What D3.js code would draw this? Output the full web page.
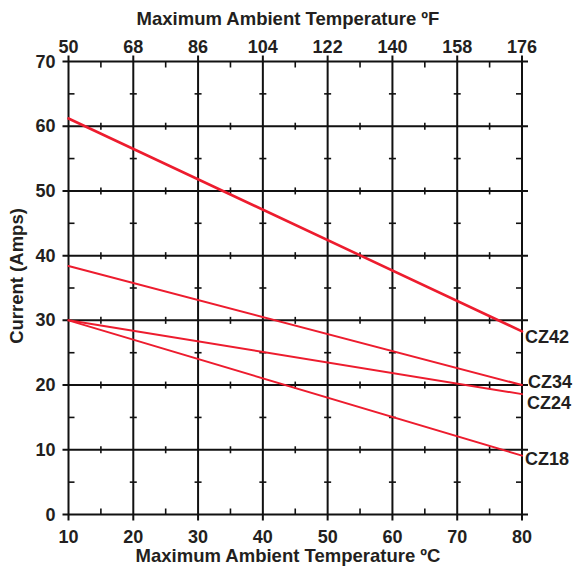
<!DOCTYPE html>
<html>
<head>
<meta charset="utf-8">
<script src="https://cdn.jsdelivr.net/npm/d3@7"></script>
<style>
  body { margin: 0; background: #fff; }
  svg text { font-family: "Liberation Sans", Arial, Helvetica, sans-serif; font-weight: bold; fill: #231f20; }
</style>
</head>
<body>
<svg id="chart" width="576" height="566"></svg>
<script>
// chart data
const tempC = [10, 20, 30, 40, 50, 60, 70, 80];
const tempF = [50, 68, 86, 104, 122, 140, 158, 176];
const ampTicks = [0, 10, 20, 30, 40, 50, 60, 70];
const minorC = [15, 25, 35, 45, 55, 65, 75];
const minorA = [5, 15, 25, 35, 45, 55, 65];
const seriesNames = ["CZ42", "CZ34", "CZ24", "CZ18"];
const startAmps = [61.2, 38.4, 30, 30];   // at 10 ºC
const endAmps = [28.3, 20, 18.6, 9.1];    // at 80 ºC

const width = 576, height = 566;
const marginLeft = 68.5, marginRight = 54, marginTop = 61.5, marginBottom = 51.5;

const svg = d3.select("#chart");

const x = d3.scaleLinear().domain([10, 80]).range([marginLeft, width - marginRight]);
const xF = d3.scaleLinear().domain([50, 176]).range([marginLeft, width - marginRight]);
const y = d3.scaleLinear().domain([0, 70]).range([height - marginBottom, marginTop]);

const ink = "#111";
const grid = svg.append("g").attr("stroke", ink).attr("stroke-width", 2);

// major grid lines, poking out a little past the frame
grid.selectAll(".vline")
    .data(tempC)
    .enter()
    .append("line")
    .attr("x1", d => x(d)).attr("x2", d => x(d))
    .attr("y1", y(70) - 6).attr("y2", y(0) + 6);

grid.selectAll(".hline")
    .data(ampTicks)
    .enter()
    .append("line")
    .attr("y1", d => y(d)).attr("y2", d => y(d))
    .attr("x1", x(10) - 6).attr("x2", x(80) + 6);

// minor ticks: small crosses on inner lines, inward only on the frame
const minor = svg.append("g").attr("stroke", ink).attr("stroke-width", 1.6);
tempC.forEach(c => {
    const x1 = c === 10 ? x(c) : (c === 80 ? x(c) - 6 : x(c) - 3.5);
    const x2 = c === 10 ? x(c) + 6 : (c === 80 ? x(c) : x(c) + 3.5);
    minor.selectAll(null)
        .data(minorA)
        .enter()
        .append("line")
        .attr("x1", x1).attr("x2", x2)
        .attr("y1", d => y(d)).attr("y2", d => y(d));
});
ampTicks.forEach(a => {
    const y1 = a === 70 ? y(a) : (a === 0 ? y(a) - 6 : y(a) - 3.5);
    const y2 = a === 70 ? y(a) + 6 : (a === 0 ? y(a) : y(a) + 3.5);
    minor.selectAll(null)
        .data(minorC)
        .enter()
        .append("line")
        .attr("x1", d => x(d)).attr("x2", d => x(d))
        .attr("y1", y1).attr("y2", y2);
});

// tick labels
svg.append("g")
    .selectAll("text")
    .data(tempC)
    .enter()
    .append("text")
    .attr("x", d => x(d))
    .attr("y", y(0) + 28)
    .attr("text-anchor", "middle")
    .attr("font-size", "18px")
    .text(d => d);

svg.append("g")
    .selectAll("text")
    .data(tempF)
    .enter()
    .append("text")
    .attr("x", d => xF(d))
    .attr("y", y(70) - 9)
    .attr("text-anchor", "middle")
    .attr("font-size", "18px")
    .text(d => d);

svg.append("g")
    .selectAll("text")
    .data(ampTicks)
    .enter()
    .append("text")
    .attr("x", x(10) - 13)
    .attr("y", d => y(d) + 6)
    .attr("text-anchor", "end")
    .attr("font-size", "18px")
    .text(d => d);

// axis titles
svg.append("text")
    .attr("x", 288).attr("y", 25)
    .attr("text-anchor", "middle")
    .attr("font-size", "18.5px")
    .text("Maximum Ambient Temperature ºF");

svg.append("text")
    .attr("x", 288).attr("y", 562)
    .attr("text-anchor", "middle")
    .attr("font-size", "18.5px")
    .text("Maximum Ambient Temperature ºC");

svg.append("text")
    .attr("transform", `translate(23, ${(y(0) + y(70)) / 2 - 12}) rotate(-90)`)
    .attr("text-anchor", "middle")
    .attr("font-size", "18.5px")
    .text("Current (Amps)");

// derating lines
const red = "#ed1c2e";
const labelDy = {"CZ42": 12, "CZ34": 3, "CZ24": 15, "CZ18": 9.5};
const labelDx = {"CZ42": 3, "CZ34": 6, "CZ24": 5, "CZ18": 3};

seriesNames.forEach((name, i) => {
    svg.append("line")
        .attr("x1", x(10)).attr("y1", y(startAmps[i]))
        .attr("x2", x(80)).attr("y2", y(endAmps[i]))
        .attr("stroke", red)
        .attr("stroke-width", i === 0 ? 2.6 : 2)
        .attr("stroke-linecap", "round");

    svg.append("text")
        .attr("x", x(80) + labelDx[name])
        .attr("y", y(endAmps[i]) + labelDy[name])
        .attr("font-size", "18px")
        .text(name);
});
</script>
</body>
</html>
